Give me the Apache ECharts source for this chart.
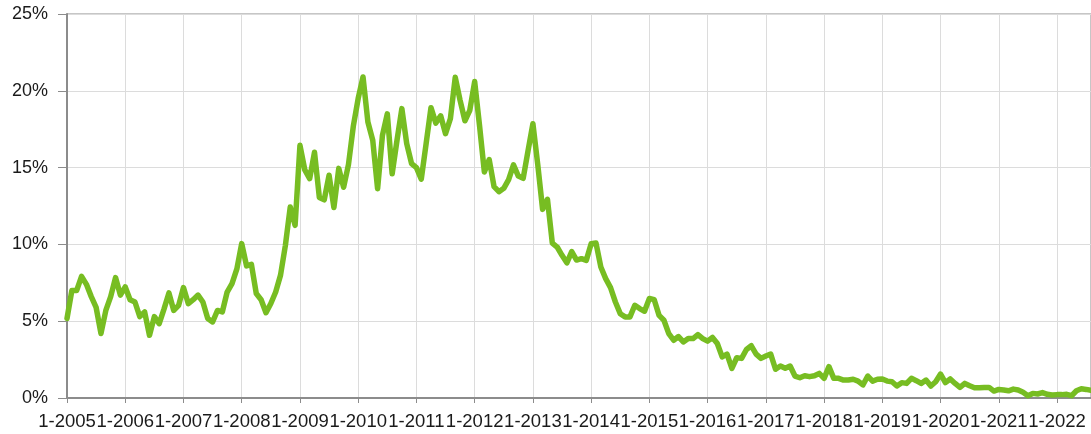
<!DOCTYPE html>
<html>
<head>
<meta charset="utf-8">
<script src="https://cdn.jsdelivr.net/npm/echarts@6/dist/echarts.min.js"></script>
<style>
html,body{margin:0;padding:0;background:#fff;}
#chart{width:1091px;height:434px;}
</style>
</head>
<body>
<div id="chart"></div>
<script>
// Monthly values (%) per year, Jan..Dec
const v2005 = [5.17, 7.0, 7.0, 7.92, 7.4, 6.6, 5.9, 4.2, 5.7, 6.6, 7.84, 6.7];
const v2006 = [7.23, 6.4, 6.25, 5.3, 5.6, 4.08, 5.3, 4.84, 5.8, 6.84, 5.7, 6.03];
const v2007 = [7.19, 6.14, 6.4, 6.7, 6.25, 5.17, 4.95, 5.7, 5.6, 6.9, 7.45, 8.4];
const v2008 = [10.05, 8.6, 8.7, 6.8, 6.4, 5.55, 6.15, 6.9, 8.0, 9.94, 12.43, 11.24];
const v2009 = [16.45, 14.85, 14.28, 16.0, 13.05, 12.9, 14.5, 12.4, 14.95, 13.72, 15.2, 17.7];
const v2010 = [19.5, 20.9, 17.97, 16.78, 13.63, 17.1, 18.5, 14.6, 16.78, 18.84, 16.56, 15.26];
const v2011 = [15.0, 14.25, 16.56, 18.9, 17.9, 18.37, 17.21, 18.19, 20.88, 19.38, 18.05, 18.73];
const v2012 = [20.6, 17.75, 14.71, 15.52, 13.76, 13.43, 13.65, 14.22, 15.18, 14.45, 14.3, 16.1];
const v2013 = [17.86, 15.2, 12.28, 12.94, 10.09, 9.83, 9.29, 8.8, 9.53, 8.98, 9.07, 8.96];
const v2014 = [10.04, 10.09, 8.53, 7.77, 7.19, 6.25, 5.49, 5.28, 5.28, 6.04, 5.82, 5.65];
const v2015 = [6.48, 6.4, 5.38, 5.06, 4.19, 3.76, 4.0, 3.65, 3.87, 3.87, 4.13, 3.87];
const v2016 = [3.7, 3.94, 3.55, 2.68, 2.86, 1.93, 2.62, 2.58, 3.16, 3.4, 2.86, 2.58];
const v2017 = [2.73, 2.86, 1.87, 2.08, 1.93, 2.08, 1.43, 1.32, 1.45, 1.39, 1.45, 1.6];
const v2018 = [1.28, 2.04, 1.28, 1.28, 1.17, 1.17, 1.22, 1.1, 0.85, 1.43, 1.1, 1.22];
const v2019 = [1.24, 1.1, 1.06, 0.78, 1.0, 0.95, 1.28, 1.13, 0.95, 1.17, 0.78, 1.06];
const v2020 = [1.56, 1.0, 1.24, 0.95, 0.69, 0.95, 0.8, 0.67, 0.67, 0.69, 0.69, 0.45];
const v2021 = [0.56, 0.52, 0.47, 0.58, 0.52, 0.37, 0.15, 0.3, 0.26, 0.35, 0.24, 0.2];
const v2022 = [0.22, 0.22, 0.24, 0.15, 0.47, 0.6, 0.56, 0.5];

const years = [2005,2006,2007,2008,2009,2010,2011,2012,2013,2014,2015,2016,2017,2018,2019,2020,2021,2022];
const yearValues = [v2005,v2006,v2007,v2008,v2009,v2010,v2011,v2012,v2013,v2014,v2015,v2016,v2017,v2018,v2019,v2020,v2021,v2022];
const yTicks = [0, 5, 10, 15, 20, 25];

const categories = [];
const values = [];
years.forEach((y, k) => {
  yearValues[k].forEach((val, m) => {
    categories.push((m + 1) + '-' + y);
    values.push(val);
  });
});

const chart = echarts.init(document.getElementById('chart'), null, {renderer: 'canvas'});
const font = 'Liberation Sans, Arial, Helvetica, sans-serif';
chart.setOption({
  animation: false,
  backgroundColor: '#ffffff',
  grid: {left: 67, right: -2, top: 14, bottom: 36, show: true, borderColor: '#8c8c8c', borderWidth: 1, backgroundColor: 'transparent'},
  xAxis: {
    type: 'category',
    data: categories,
    boundaryGap: false,
    axisLine: {show: true, lineStyle: {color: '#8c8c8c', width: 2}},
    axisTick: {show: true, interval: 11, length: 5, lineStyle: {color: '#8c8c8c', width: 1}},
    axisLabel: {interval: 11, margin: 14, fontSize: 18.5, color: '#1a1a1a', fontFamily: font, showMinLabel: true, hideOverlap: false},
    splitLine: {show: true, interval: 11, lineStyle: {color: '#dcdcdc', width: 1}}
  },
  yAxis: {
    type: 'value',
    min: yTicks[0],
    max: yTicks[yTicks.length - 1],
    interval: 5,
    axisLine: {show: true, lineStyle: {color: '#8c8c8c', width: 2}},
    axisTick: {show: true, length: 9, lineStyle: {color: '#8c8c8c', width: 1}},
    axisLabel: {formatter: '{value}%', margin: 19, fontSize: 18, color: '#1a1a1a', fontFamily: font},
    splitLine: {show: true, lineStyle: {color: '#dcdcdc', width: 1}}
  },
  series: [{
    type: 'line',
    data: values,
    showSymbol: false,
    smooth: false,
    lineStyle: {color: '#77bd22', width: 5.5, cap: 'round', join: 'round'},
    itemStyle: {color: '#77bd22'}
  }]
});
</script>
</body>
</html>
